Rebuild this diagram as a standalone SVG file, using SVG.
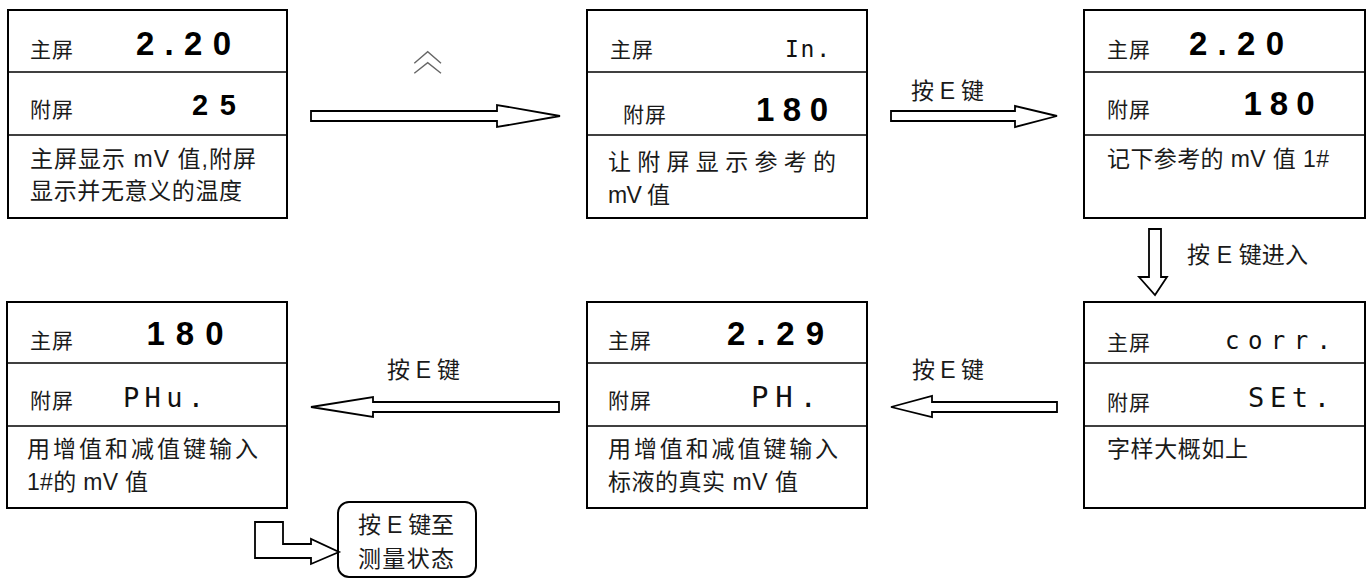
<svg xmlns="http://www.w3.org/2000/svg" width="1368" height="580" viewBox="0 0 1368 580">
<style>
.box{fill:#fff;stroke:#000;stroke-width:2}
.div{stroke:#000;stroke-width:1.6}
.lbl{font-family:"Liberation Sans","Noto Sans CJK SC",sans-serif;font-size:21px;fill:#1a1a1a}
.dsc{font-family:"Liberation Sans","Noto Sans CJK SC",sans-serif;font-size:23px;fill:#1a1a1a}
.val{font-family:"Liberation Sans",Arial,sans-serif;font-weight:bold;font-size:33px;fill:#000}
.seg{font-family:"DejaVu Sans Mono","Liberation Mono",monospace;fill:#111}
.arr{fill:#fff;stroke:#000;stroke-width:1.8;stroke-linejoin:miter}
.car{fill:none;stroke:#666;stroke-width:1.4}
</style>
<rect width="1368" height="580" fill="#fff"/>

<g id="node1">
<rect class="box" x="8" y="10" width="279" height="208"/>
<line class="div" x1="8" y1="72" x2="287" y2="72"/>
<line class="div" x1="8" y1="135" x2="287" y2="135"/>
<text class="lbl" x="30" y="57" textLength="43" lengthAdjust="spacing">主屏</text>
<text class="val" x="136" y="55" textLength="95" lengthAdjust="spacing">2.20</text>
<text class="lbl" x="30" y="117" textLength="43" lengthAdjust="spacing">附屏</text>
<text class="val" x="192" y="115" style="font-size:29px" textLength="44" lengthAdjust="spacing">25</text>
<text class="dsc" x="30" y="167" textLength="226" lengthAdjust="spacing">主屏显示 mV 值,附屏</text>
<text class="dsc" x="30" y="199" textLength="212" lengthAdjust="spacing">显示并无意义的温度</text>
</g>

<g id="node2">
<rect class="box" x="587" y="10" width="280" height="208"/>
<line class="div" x1="587" y1="72" x2="867" y2="72"/>
<line class="div" x1="587" y1="135" x2="867" y2="135"/>
<text class="lbl" x="610" y="57" textLength="43" lengthAdjust="spacing">主屏</text>
<text class="seg" x="785" y="57" style="font-size:23px" textLength="45" lengthAdjust="spacing">In.</text>
<text class="lbl" x="623" y="122" textLength="43" lengthAdjust="spacing">附屏</text>
<text class="val" x="756" y="121" textLength="72" lengthAdjust="spacing">180</text>
<text class="dsc" x="608" y="170" textLength="228" lengthAdjust="spacing">让 附 屏 显 示 参 考 的</text>
<text class="dsc" x="608" y="203" textLength="62" lengthAdjust="spacing">mV 值</text>
</g>

<g id="node3">
<rect class="box" x="1084" y="10" width="281" height="208"/>
<line class="div" x1="1084" y1="72" x2="1365" y2="72"/>
<line class="div" x1="1084" y1="135" x2="1365" y2="135"/>
<text class="lbl" x="1107" y="57" textLength="43" lengthAdjust="spacing">主屏</text>
<text class="val" x="1189" y="55" textLength="95" lengthAdjust="spacing">2.20</text>
<text class="lbl" x="1107" y="117" textLength="43" lengthAdjust="spacing">附屏</text>
<text class="val" x="1243.5" y="115" textLength="71" lengthAdjust="spacing">180</text>
<text class="dsc" x="1107" y="167" textLength="222" lengthAdjust="spacing">记下参考的 mV 值 1#</text>
</g>

<g id="node6">
<rect class="box" x="1084" y="302" width="281" height="206"/>
<line class="div" x1="1084" y1="363" x2="1365" y2="363"/>
<line class="div" x1="1084" y1="426" x2="1365" y2="426"/>
<text class="lbl" x="1107" y="350" textLength="43" lengthAdjust="spacing">主屏</text>
<text class="seg" x="1225" y="349" style="font-size:24px" textLength="106" lengthAdjust="spacing">corr.</text>
<text class="lbl" x="1107" y="410" textLength="43" lengthAdjust="spacing">附屏</text>
<text class="seg" x="1248" y="407" style="font-size:27px" textLength="82" lengthAdjust="spacing">SEt.</text>
<text class="dsc" x="1107" y="457" textLength="141" lengthAdjust="spacing">字样大概如上</text>
</g>

<g id="node5">
<rect class="box" x="587" y="302" width="280" height="206"/>
<line class="div" x1="587" y1="363" x2="867" y2="363"/>
<line class="div" x1="587" y1="426" x2="867" y2="426"/>
<text class="lbl" x="608" y="348" textLength="43" lengthAdjust="spacing">主屏</text>
<text class="val" x="727" y="345" textLength="97" lengthAdjust="spacing">2.29</text>
<text class="lbl" x="608" y="408" textLength="43" lengthAdjust="spacing">附屏</text>
<text class="seg" x="751" y="407" style="font-size:29px" textLength="66" lengthAdjust="spacing">PH.</text>
<text class="dsc" x="608" y="457" textLength="230" lengthAdjust="spacing">用增值和减值键输入</text>
<text class="dsc" x="608" y="490" textLength="190" lengthAdjust="spacing">标液的真实 mV 值</text>
</g>

<g id="node4">
<rect class="box" x="7" y="302" width="280" height="206"/>
<line class="div" x1="7" y1="363" x2="287" y2="363"/>
<line class="div" x1="7" y1="426" x2="287" y2="426"/>
<text class="lbl" x="30" y="348" textLength="43" lengthAdjust="spacing">主屏</text>
<text class="val" x="146.5" y="345" textLength="77" lengthAdjust="spacing">180</text>
<text class="lbl" x="30" y="408" textLength="43" lengthAdjust="spacing">附屏</text>
<text class="seg" x="123" y="407" style="font-size:27px" textLength="81" lengthAdjust="spacing">PHu.</text>
<text class="dsc" x="27" y="457" textLength="231" lengthAdjust="spacing">用增值和减值键输入</text>
<text class="dsc" x="27" y="490" textLength="121" lengthAdjust="spacing">1#的 mV 值</text>
</g>

<g id="node7">
<rect class="box" x="338" y="502" width="138" height="75" rx="11" ry="11"/>
<text class="dsc" x="358" y="533" textLength="96" lengthAdjust="spacing">按 E 键至</text>
<text class="dsc" x="358" y="567" textLength="96" lengthAdjust="spacing">测量状态</text>
</g>

<g id="connectors">
<polyline class="car" points="414.3,63.3 427.7,51.7 441,63.3"/>
<polyline class="car" points="414.3,73.3 427.7,62.7 441,73.3"/>
<path class="arr" d="M311,111 H497 V105 L560,116 L497,127 V121 H311 Z"/>
<path class="arr" d="M891,111 H1015 V106 L1057,116 L1015,127 V121 H891 Z"/>
<text class="dsc" x="911" y="99" textLength="73" lengthAdjust="spacing">按 E 键</text>
<path class="arr" d="M1149,229 H1161 V277 H1167 L1155,295 L1139,277 H1149 Z"/>
<text class="dsc" x="1187" y="263" textLength="121" lengthAdjust="spacing">按 E 键进入</text>
<path class="arr" d="M1057,402 H932 V396 L891,407 L932,417 V412 H1057 Z"/>
<text class="dsc" x="912" y="378" textLength="72" lengthAdjust="spacing">按 E 键</text>
<path class="arr" d="M559,402 H373 V397 L311,407 L373,417 V412 H559 Z"/>
<text class="dsc" x="387" y="378" textLength="73" lengthAdjust="spacing">按 E 键</text>
<path class="arr" d="M255,522 H283 V544 H311 V539 L339,552 L311,564 V558 H255 Z"/>
</g>
</svg>
